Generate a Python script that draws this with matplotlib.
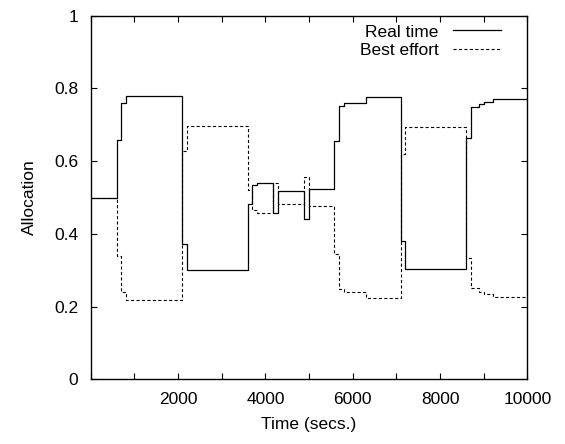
import matplotlib
matplotlib.use('Agg')
import matplotlib.pyplot as plt

# step change times (secs.) and allocations after each change
times = [0, 595, 700, 800, 2100, 2200, 3600, 3700, 3800, 4180, 4290, 4890, 5000,
         5580, 5690, 5800, 6300, 7100, 7200, 8590, 8700, 8900, 9000, 9200, 10000]
real_time = [0.5, 0.658, 0.759, 0.779, 0.371, 0.301, 0.481, 0.534, 0.541, 0.457, 0.518, 0.44, 0.523,
             0.655, 0.752, 0.761, 0.777, 0.38, 0.303, 0.664, 0.748, 0.758, 0.764, 0.771, 0.771]
best_effort = [0.5, 0.340, 0.239, 0.219, 0.628, 0.696, 0.52, 0.466, 0.457, 0.541, 0.482, 0.557, 0.477,
               0.344, 0.248, 0.239, 0.223, 0.619, 0.694, 0.333, 0.251, 0.241, 0.235, 0.226, 0.226]

x_ticks = list(range(0, 10001, 1000))
x_labels = [str(t) if t % 2000 == 0 and t > 0 else '' for t in x_ticks]
y_ticks = [0, 0.2, 0.4, 0.6, 0.8, 1]
y_labels = ['0', '0.2', '0.4', '0.6', '0.8', '1']

plt.rcParams['font.family'] = ['Liberation Sans', 'DejaVu Sans']
plt.rcParams['font.size'] = 12.5

fig = plt.figure(figsize=(5.65, 4.44), dpi=100)
ax = fig.add_axes([0.1605, 0.1457, 0.7731, 0.8189])

ax.step(times, real_time, where='post', color='black', linewidth=0.9, label='Real time')
ax.step(times, best_effort, where='post', color='black', linewidth=0.8,
        linestyle=(0, (2.8, 2.1)), label='Best effort')

ax.set_xlim(0, 10000)
ax.set_ylim(0, 1)
ax.set_xticks(x_ticks)
ax.set_xticklabels(x_labels)
ax.set_yticks(y_ticks)
ax.set_yticklabels(y_labels)
ax.tick_params(direction='in', length=4.5, width=0.8, top=True, right=True, pad=9)
for s in ax.spines.values():
    s.set_linewidth(1.0)

ax.set_xlabel('Time (secs.)', labelpad=7.5)
ax.set_ylabel('Allocation', labelpad=12)

ax.legend(loc='upper right', frameon=False, markerfirst=False, handlelength=2.8,
          handletextpad=0.8, borderaxespad=0.1, labelspacing=0.2, bbox_to_anchor=(0.96, 1.0))

fig.savefig('out.png', dpi=100)
